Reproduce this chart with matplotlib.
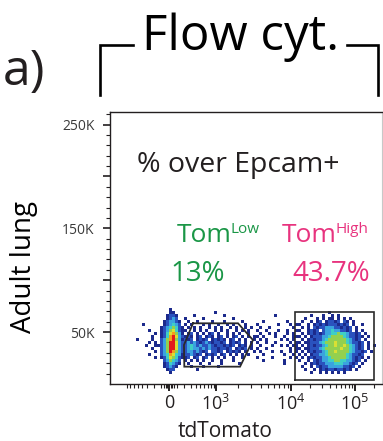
import numpy as np
import matplotlib
matplotlib.use("Agg")
import matplotlib.pyplot as plt
from matplotlib.colors import ListedColormap, BoundaryNorm
from matplotlib.ticker import FixedLocator, FixedFormatter, NullFormatter
from matplotlib.lines import Line2D

plt.rcParams['font.family'] = ['Open Sans', 'DejaVu Sans']
plt.rcParams['mathtext.fontset'] = 'custom'
plt.rcParams['mathtext.rm'] = 'Open Sans'
plt.rcParams['mathtext.it'] = 'Open Sans:italic'
plt.rcParams['mathtext.bf'] = 'Open Sans:bold'

# ---------------- data ----------------
X_MAJOR = [0, 1e3, 1e4, 1e5]
X_LABELS = ['0', r'$\mathregular{10^{3}}$', r'$\mathregular{10^{4}}$', r'$\mathregular{10^{5}}$']
X_MINOR = ([-800, -700, -600, -500, -400, -300, -200, -100, -60, -40, -20,
            20, 40, 60, 100, 200, 300, 400, 500, 600, 700, 800, 900]
           + [2e3, 3e3, 4e3, 5e3, 6e3, 7e3, 8e3, 9e3]
           + [2e4, 3e4, 4e4, 5e4, 6e4, 7e4, 8e4, 9e4, 2e5])
Y_MAJOR = [50000, 100000, 150000, 200000, 250000]
Y_LABELS = ['50K', '', '150K', '', '250K']
Y_MINOR = list(range(10000, 262144, 10000))

LOW_GATE_X = [343, 1983, 3141, 2112, 200, 195]
LOW_GATE_Y = [58500, 58500, 42400, 16700, 16700, 37600]
HIGH_GATE_X = [11550, 198000]
HIGH_GATE_Y = [3850, 69400]

# density levels ('.' empty, a..h = navy..red)
STRAY_ROWS = [".......", ".......", ".......", ".......", ".......", "..a....",
              ".......", "....a..", "......a", ".....a.", "a....a.", "....a.a",
              "...a..a", ".....a.", "......a", "....a..", "......a", ".......",
              ".......", ".......", ".......", "......."]
NEG_ROWS = ["....a....", "....aa...", "...abba..", "...abcb..", "..abccba.",
            "..abcdcb.", ".abcdedba", ".abcefdba", ".abdfgeca", ".abdghfcb",
            ".bcegheca", ".bcehhfcb", "abcehhfcb", ".bcehhfcb", ".bcehgecb",
            ".bcdgfdca", ".abdfedba", "..bcedcb.", "..abdcba.", "..abcba..",
            "...abb...", "....a...."]
LOW_ROWS = ["........................",
            "..........a.............",
            "...a.........a..........",
            "a.....a.........a.......",
            ".a..a....a...a.....a....",
            "a.a...a.a..a..a.a...a...",
            ".a.a.a..a.a.a..a.a..a.a.",
            "a..a.a.a..a.a.a..a.a.a..",
            ".ab.a.a.ab.a..a.a.a..a..",
            "aba.ab.aba.ab.a.ab.a.a.a",
            "bab.abab.ababa.ab.a.a..a",
            "bcbcbabcbabbab.abab.a.a.",
            "bcdcbcbbcbabbabab.aba.a.",
            "bcdccbcbcbbabbab.abab.a.",
            "bccbcbab.bbab.ababa.a..a",
            "bbcbab.abab.ab.a.a.a.a..",
            "ab.ab.ab.a.a.a..a..a....",
            "a.a.a.a..a..a...a.......",
            ".a...a..a...a.....a.....",
            "..a...a....a............",
            "....a...................",
            "........................"]
MID_ROWS = ["..............", "..............", "......a.......", "..............",
            "..a.......a...", "a......a...a.a", ".a..a.......a.", "a..a...a..a..a",
            ".a..a.a...a.a.", "a.a...a..a..aa", ".a.a....a.a.a.", "a..a..a....a.a",
            ".a...a..a.a.aa", "a..a.......a.a", ".a...a..a..a.a", "..a......a..a.",
            "a....a.....a.a", "..a......a....", ".........a....", "..............",
            "..............", ".............."]
HIGH_ROWS = ["..........................",
             "..........a...............",
             "....a...a..a.a............",
             "..a...a.a.aa.a.a.a........",
             ".a..a.ab.abbab.ba.a.......",
             "a..a.abababbbabab.a..a....",
             ".a.a.babbcccbbabab.a......",
             "a..abab.bccdccbbab.a.a....",
             ".a.abababccddeddcbbab.a...",
             "a.a.abbbccdeeeedcbbaba.a..",
             ".a.ababbcdeeeeeedcbab.a...",
             "a.aabbbcdeeefeeedcbbab.a..",
             ".a.ababbcdeefeefedcbab.a.a",
             "a.aabbbcdeeeeefeedcbab.a..",
             ".a.ababbcdeefeeeedcbbab.a.",
             "a.a.abbccdeeeeeedcbbab....",
             ".a.ababbccdeeeeedcbaba.a..",
             "a..a.babccddeeddccbab.a...",
             "..a.ababbcccdddccbab.a....",
             ".a..a.babbcccccbbab.a.....",
             "..a..a.ababbabbaba.a......",
             "....a..a.a.a.a.a.........."]

LEVEL_CHARS = "abcdefgh"
LEVEL_COLORS = ['#1c2a8c', '#2a52be', '#3aa3df', '#3fcfc4',
                '#93d04f', '#d9e033', '#f39c1e', '#e31a1c']

TEXT = '#231f20'
GREEN = '#1a9646'
PINK = '#e8337e'

# ---------------- figure ----------------
W, H = 383, 441
fig = plt.figure(figsize=(W / 100, H / 100), dpi=100)
fig.patch.set_facecolor('white')

AX_L, AX_R, AX_T, AX_B = 110, 382, 112, 384
ax = fig.add_axes([AX_L / W, 1 - AX_B / H, (AX_R - AX_L) / W, (AX_B - AX_T) / H])

# biexponential-like display scale (px positions of decades)
C = 300.0
ANCH_X = np.array([-1650, 0, 1e3, 1e4, 1e5, 262144])
ANCH_P = np.array([110, 169, 216, 291, 355, 382.0])
ANCH_G = np.arcsinh(ANCH_X / C)
s0 = (ANCH_P[1] - ANCH_P[0]) / (ANCH_G[1] - ANCH_G[0])
s1 = (ANCH_P[-1] - ANCH_P[-2]) / (ANCH_G[-1] - ANCH_G[-2])
G2 = np.concatenate([[ANCH_G[0] - 40], ANCH_G, [ANCH_G[-1] + 40]])
P2 = np.concatenate([[ANCH_P[0] - 40 * s0], ANCH_P, [ANCH_P[-1] + 40 * s1]])


def fwd(x):
    return np.interp(np.arcsinh(np.asarray(x, dtype=float) / C), G2, P2)


def inv(p):
    return C * np.sinh(np.interp(np.asarray(p, dtype=float), P2, G2))


ax.set_xscale('function', functions=(fwd, inv))
ax.set_xlim(-1650, 262144)
ax.set_ylim(0, 262144)

# density grid (3 px cells in display space)
rows = []
for i in range(len(NEG_ROWS)):
    rows.append(STRAY_ROWS[i].ljust(7, '.')[:7] + NEG_ROWS[i].ljust(9, '.')[:9]
                + LOW_ROWS[i].ljust(24, '.')[:24] + MID_ROWS[i].ljust(14, '.')[:14]
                + HIGH_ROWS[i].ljust(26, '.')[:26])
nr, nc = len(rows), len(rows[0])
Z = np.full((nr, nc), np.nan)
for r, row in enumerate(rows):
    for c, ch in enumerate(row):
        if ch in LEVEL_CHARS:
            Z[r, c] = LEVEL_CHARS.index(ch)
GX0, GY0, CELL = 136, 308, 3
xe = inv(GX0 + CELL * np.arange(nc + 1))
ype = GY0 + CELL * np.arange(nr + 1)
ye = (AX_B - ype) / (AX_B - AX_T) * 262144
cmap = ListedColormap(LEVEL_COLORS)
norm = BoundaryNorm(np.arange(-0.5, len(LEVEL_COLORS) + 0.5, 1), len(LEVEL_COLORS))
ax.pcolormesh(xe, ye, np.ma.masked_invalid(Z), cmap=cmap, norm=norm,
              shading='flat', edgecolors='none', antialiased=False, zorder=1)

# gates
gx = LOW_GATE_X + [LOW_GATE_X[0]]
gy = LOW_GATE_Y + [LOW_GATE_Y[0]]
ax.plot(gx, gy, color='#2b2b2b', lw=1.3, zorder=3, solid_joinstyle='miter')
hx = [HIGH_GATE_X[0], HIGH_GATE_X[1], HIGH_GATE_X[1], HIGH_GATE_X[0], HIGH_GATE_X[0]]
hy = [HIGH_GATE_Y[0], HIGH_GATE_Y[0], HIGH_GATE_Y[1], HIGH_GATE_Y[1], HIGH_GATE_Y[0]]
ax.plot(hx, hy, color='#2b2b2b', lw=1.2, zorder=3, solid_joinstyle='miter')

# axes styling
for side in ['left', 'top', 'bottom']:
    ax.spines[side].set_color(TEXT)
    ax.spines[side].set_linewidth(1.0)
ax.spines['right'].set_color('#c8c8c8')
ax.spines['right'].set_linewidth(0.8)

ax.xaxis.set_major_locator(FixedLocator(X_MAJOR))
ax.xaxis.set_major_formatter(FixedFormatter(X_LABELS))
ax.xaxis.set_minor_locator(FixedLocator(X_MINOR))
ax.xaxis.set_minor_formatter(NullFormatter())
ax.yaxis.set_major_locator(FixedLocator(Y_MAJOR))
ax.yaxis.set_major_formatter(FixedFormatter(Y_LABELS))
ax.yaxis.set_minor_locator(FixedLocator(Y_MINOR))
ax.yaxis.set_minor_formatter(NullFormatter())

ax.tick_params(axis='x', which='major', direction='out', length=5, width=1.4,
               color=TEXT, labelsize=13, labelcolor=TEXT, pad=2)
ax.tick_params(axis='x', which='minor', direction='out', length=3, width=0.8, color=TEXT)
ax.tick_params(axis='y', which='major', direction='out', length=5, width=1.2,
               color=TEXT, labelsize=10, labelcolor='#3a3a3a', pad=6)
ax.tick_params(axis='y', which='minor', direction='out', length=3, width=0.8, color=TEXT)


def ftext(x, y, s, **kw):
    return fig.text(x / W, 1 - y / H, s, **kw)


ftext(3, 85, 'a)', fontsize=36, color=TEXT, ha='left', va='baseline')
ftext(142, 50, 'Flow cyt.', fontsize=35.5, color='black', ha='left', va='baseline')
for xs, ys in [([100, 100, 133], [95, 45, 45]), ([347, 378, 378], [45, 45, 95])]:
    fig.add_artist(Line2D([x / W for x in xs], [1 - y / H for y in ys],
                          transform=fig.transFigure, color='black', lw=1.9,
                          solid_joinstyle='miter'))

ftext(137, 172, '% over Epcam+', fontsize=20.5, color=TEXT, ha='left', va='baseline')

renderer = fig.canvas.get_renderer()
for x0, sup, col in [(177, 'Low', GREEN), (282, 'High', PINK)]:
    t = ftext(x0, 242, 'Tom', fontsize=19, color=col, ha='left', va='baseline')
    bb = t.get_window_extent(renderer)
    ftext(bb.x1 - 1, 233, sup, fontsize=11, color=col, ha='left', va='baseline')

ftext(170, 281, '13%', fontsize=20, color=GREEN, ha='left', va='baseline')
ftext(292, 281, '43.7%', fontsize=20, color=PINK, ha='left', va='baseline')
ftext(24, 267, 'Adult lung', fontsize=20, color='black', rotation=90, ha='center', va='center')
ftext(225, 437, 'tdTomato', fontsize=15, color=TEXT, ha='center', va='baseline')

fig.savefig('out.png', dpi=100, facecolor='white')
